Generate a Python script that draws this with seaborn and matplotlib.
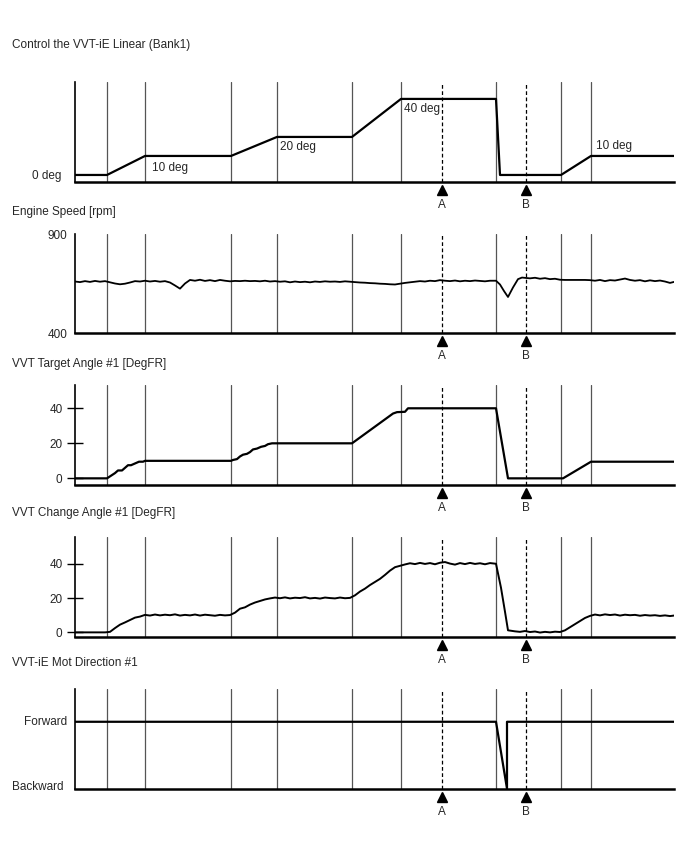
import numpy as np
import pandas as pd
import seaborn as sns
import matplotlib.pyplot as plt

# Time axis (arbitrary units), event lines and markers A / B
event_t = [32, 70, 156, 202, 277, 326, 421, 486, 516]
mark_a = 367
mark_b = 451

# Control the VVT-iE Linear (Bank1) command [deg]
cmd_t = [0, 32, 70, 156, 202, 277, 326, 421, 425, 486, 516, 599]
cmd_deg = [0, 0, 10, 10, 20, 20, 40, 40, 0, 0, 10, 10]

# Engine speed [rpm]
rpm_t = [0, 5, 10, 15, 20, 25, 30, 35, 40, 45, 50, 55, 60, 65, 70, 75, 80, 85, 90, 95,
         100, 105, 110, 115, 120, 125, 130, 135, 140, 145, 150, 155, 160, 165, 170, 175,
         180, 185, 190, 195, 200, 205, 210, 215, 220, 225, 230, 235, 240, 245, 250, 255,
         260, 265, 270, 275, 280, 285, 290, 295, 300, 305, 310, 315, 320, 325, 330, 335,
         340, 345, 350, 355, 360, 365, 370, 375, 380, 385, 390, 395, 400, 405, 410, 415,
         421, 425, 429, 433, 438, 443, 447, 451, 455, 460, 465, 470, 475, 480, 485, 490,
         495, 500, 505, 510, 515, 520, 525, 530, 535, 540, 545, 550, 555, 560, 565, 570,
         575, 580, 585, 590, 595, 599]
rpm = [660, 657, 662, 658, 663, 659, 662, 656, 650, 646, 649, 655, 662, 660, 664, 660, 663, 659, 662, 655,
       640, 624, 650, 668, 664, 669, 663, 667, 662, 668, 664, 661, 663, 662, 664, 662,
       663, 661, 664, 660, 662, 659, 661, 656, 660, 657, 659, 656, 660, 658, 661, 659,
       660, 658, 661, 659, 657, 655, 654, 652, 651, 649, 648, 646, 645, 649, 653, 656,
       659, 662, 660, 664, 662, 667, 664, 662, 665, 661, 664, 662, 665, 663, 661, 664,
       664, 645, 612, 582, 630, 672, 680, 678, 676, 679, 674, 677, 672, 674, 669, 668,
       668, 668, 668, 668, 667, 664, 668, 662, 667, 665, 670, 675, 668, 664, 667, 661,
       666, 662, 665, 660, 653, 658]

# VVT Target Angle #1 [DegFR]
tgt_t = [0, 32, 36, 40, 43, 47, 50, 53, 56, 60, 64, 68, 70, 156, 158, 162, 165, 168, 172,
         175, 178, 182, 186, 190, 193, 197, 202, 277, 318, 322, 330, 333, 421, 433, 488, 516, 599]
tgt = [0, 0, 1.5, 3, 4.5, 4.5, 6, 7.5, 7.5, 8.5, 9.5, 9.5, 10, 10, 10.5, 11, 12.5, 13.5, 14,
       15, 16.5, 17, 18, 18.5, 19.5, 20, 20, 20, 37, 37.8, 38, 40, 40, 0, 0, 9.5, 9.5]

# VVT Change Angle #1 [DegFR]
chg_t = [0, 5, 10, 15, 20, 25, 30, 35, 40, 45, 50, 55, 60, 65, 70, 75, 80, 85, 90, 95,
         100, 105, 110, 115, 120, 125, 130, 135, 140, 145, 150, 155, 160, 165, 170, 175,
         180, 185, 190, 195, 200, 205, 210, 215, 220, 225, 230, 235, 240, 245, 250, 255,
         260, 265, 270, 275, 280, 285, 290, 295, 300, 305, 310, 315, 320, 325, 330, 335,
         340, 345, 350, 355, 360, 365, 370, 375, 380, 385, 390, 395, 400, 405, 410, 415,
         421, 426, 430, 433, 440, 445, 450, 455, 460, 465, 470, 475, 480, 485, 490, 495,
         500, 505, 510, 515, 520, 525, 530, 535, 540, 545, 550, 555, 560, 565, 570, 575,
         580, 585, 590, 595, 599]
chg = [0, 0, 0, 0, 0, 0, 0, 0.3, 2.5, 4.5, 5.8, 7.2, 8.6, 9.2, 10.2, 9.8, 10.4, 9.9, 10.3, 10.0,
       10.5, 9.8, 10.2, 9.9, 10.4, 9.8, 10.3, 10.0, 9.7, 10.2, 9.9, 10.1, 11.5, 13.8, 14.6, 16.2,
       17.4, 18.3, 19.2, 19.8, 20.3, 19.9, 20.4, 19.8, 20.2, 20.0, 20.5, 19.8, 20.1, 19.7, 20.3, 20.0,
       19.8, 20.3, 19.9, 20.1, 21.6, 23.8, 25.5, 27.6, 29.4, 31.2, 33.5, 36.0, 38.0, 38.8, 39.6, 40.3,
       39.8, 40.5, 39.9, 40.4, 39.7, 40.6, 41.0, 40.1, 39.5, 40.4, 39.8, 40.5, 39.9, 40.3, 39.7, 40.4,
       40.0, 26.0, 12.0, 1.2, 0.6, 0.3, 0.8, 0.2, 0.5, -0.1, 0.3, 0.0, 0.4, 0.2, 1.2, 3.0,
       4.8, 6.6, 8.4, 9.6, 10.4, 9.9, 10.5, 10.1, 10.4, 9.8, 10.3, 10.0, 10.2, 9.7, 10.1, 9.8,
       10.0, 9.6, 9.9, 9.5, 9.8]

# VVT-iE Mot Direction #1 (1 = Forward, 0 = Backward)
mot_t = [0, 421, 432, 432, 599]
mot = [1, 1, 0, 1, 1]

sns.set_style("white")
plt.rcParams["font.family"] = ["Liberation Sans", "DejaVu Sans"]
plt.rcParams["font.size"] = 8.5
fs = 8.5

W, H = 688, 852
fig = plt.figure(figsize=(W / 100, H / 100), dpi=100)


def make_axes(top, bottom):
    return fig.add_axes([75 / W, 1 - bottom / H, 599 / W, (bottom - top) / H])


def decorate(ax, h):
    for t in event_t:
        ax.axvline(t, color="#555555", lw=0.9, zorder=1)
    for t in (mark_a, mark_b):
        ax.axvline(t, color="black", lw=0.9, ls=(0, (3, 2)), zorder=1)
    sns.despine(ax=ax)
    ax.spines["left"].set_linewidth(1.2)
    ax.spines["bottom"].set_linewidth(1.8)
    ax.spines["left"].set_color("black")
    ax.spines["bottom"].set_color("black")
    ax.set_xlim(0, 599)
    ax.set_xticks([])
    ax.set_xlabel("")
    ax.set_ylabel("")
    tr = ax.get_xaxis_transform()
    ax.plot([mark_a, mark_b], [-8.3 / h, -8.3 / h], transform=tr, marker="^",
            ls="none", color="black", ms=7, clip_on=False)
    for t, s in ((mark_a, "A"), (mark_b, "B")):
        ax.text(t, -23 / h, s, transform=tr, ha="center", va="center", fontsize=fs)


def draw(ax, x, y, lw=1.6):
    sns.lineplot(x=x, y=y, ax=ax, color="black", lw=lw, estimator=None, sort=False, zorder=3)


titles = [
    ("Control the VVT-iE Linear (Bank1)", 45),
    ("Engine Speed [rpm]", 212),
    ("VVT Target Angle #1 [DegFR]", 364),
    ("VVT Change Angle #1 [DegFR]", 513),
    ("VVT-iE Mot Direction #1", 663),
]
for text, y in titles:
    fig.text(12 / W, 1 - y / H, text, ha="left", va="center", fontsize=fs)

# Panel 1
ax1 = make_axes(82, 182)
draw(ax1, cmd_t, cmd_deg)
decorate(ax1, 100)
ax1.set_ylim(-3.7, 48.9)
ax1.set_yticks([0])
ax1.set_yticklabels(["0 deg"])
ax1.tick_params(axis="y", length=0, pad=9.5, labelsize=fs)
for tx, ty, s in ((77, 3.7, "10 deg"), (205, 14.7, "20 deg"), (329, 34.7, "40 deg"), (521, 15.3, "10 deg")):
    ax1.text(tx, ty, s, ha="left", va="center", fontsize=fs)

# Panel 2
ax2 = make_axes(234, 333)
draw(ax2, rpm_t, rpm, lw=1.3)
decorate(ax2, 99)
ax2.set_ylim(400, 900)
ax2.set_yticks([400, 900])
ax2.tick_params(axis="y", length=0, pad=5.5, labelsize=fs)

# Panel 3
ax3 = make_axes(385, 485)
draw(ax3, tgt_t, tgt)
decorate(ax3, 100)
ax3.set_ylim(-3.8, 53.3)
ax3.set_yticks([0, 20, 40])
ax3.tick_params(axis="y", direction="inout", length=12, width=1, pad=3, color="black",
                left=True, labelsize=fs)

# Panel 4
ax4 = make_axes(537, 637)
draw(ax4, chg_t, chg, lw=1.4)
decorate(ax4, 100)
ax4.set_ylim(-2.7, 55.6)
ax4.set_yticks([0, 20, 40])
ax4.tick_params(axis="y", direction="inout", length=12, width=1, pad=3, color="black",
                left=True, labelsize=fs)

# Panel 5
ax5 = make_axes(689, 789)
draw(ax5, mot_t, mot)
decorate(ax5, 100)
ax5.set_ylim(-0.005, 1.49)
ax5.set_yticks([])
ytr = ax5.get_yaxis_transform()
ax5.text(-8.3 / 599, 1.0, "Forward", transform=ytr, ha="right", va="center", fontsize=fs)
ax5.text(-11.7 / 599, 0.03, "Backward", transform=ytr, ha="right", va="center", fontsize=fs)

fig.savefig("out.png", dpi=100)
